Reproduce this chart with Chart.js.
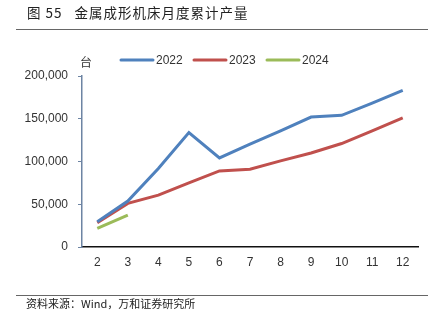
<!DOCTYPE html>
<html>
<head>
<meta charset="utf-8">
<script src="https://cdn.jsdelivr.net/npm/chart.js@4/dist/chart.umd.min.js"></script>
<style>
  html, body { margin: 0; padding: 0; background: #fff; }
  #wrap { position: relative; width: 434px; height: 330px; overflow: hidden; }
  #chart { position: absolute; left: 0; top: 0; }
  .cap { position: absolute; font-family: "Noto Sans CJK SC", sans-serif; color: #222; white-space: nowrap; }
  #title { left: 27px; top: 2px; font-size: 13.5px; letter-spacing: 1px; }
  #src { left: 26px; top: 295px; font-size: 11px; }
  .rule { position: absolute; left: 16px; width: 412px; height: 1px; background: #666; }
</style>
</head>
<body>
<div id="wrap">
  <canvas id="chart" width="434" height="330"></canvas>
  <div class="cap" id="title">图 55&nbsp;&nbsp;&nbsp;金属成形机床月度累计产量</div>
  <div class="rule" style="top:29px"></div>
  <div class="rule" style="top:295px"></div>
  <div class="cap" id="src">资料来源：Wind，万和证券研究所</div>
</div>
<script>
// months (cumulative output, units: 台)
var months = ['2', '3', '4', '5', '6', '7', '8', '9', '10', '11', '12'];
var seriesNames = ['2022', '2023', '2024'];
var colors = ['#4F81BD', '#C0504D', '#9BBB59'];
var y2022 = [29500, 53700, 91800, 133800, 104200, 120200, 135700, 152000, 154000, 168400, 183200];
var y2023 = [28400, 51000, 60700, 75000, 89000, 91000, 100700, 110000, 121000, 135700, 150900];
var y2024 = [21800, 37300];
var yTicks = [0, 50000, 100000, 150000, 200000];

var tickFont = { family: 'Liberation Sans, Arial, sans-serif', size: 12 };

// legend + unit label drawn on top of the chart
var legendPlugin = {
  id: 'topLegend',
  afterDraw: function (chart) {
    var ctx = chart.ctx;
    var xs = [121, 194, 267];
    ctx.save();
    ctx.font = '12px Liberation Sans, Arial, sans-serif';
    ctx.textBaseline = 'middle';
    chart.data.datasets.forEach(function (ds, i) {
      ctx.strokeStyle = ds.borderColor;
      ctx.lineWidth = 3;
      ctx.lineCap = 'round';
      ctx.beginPath();
      ctx.moveTo(xs[i], 60);
      ctx.lineTo(xs[i] + 32, 60);
      ctx.stroke();
      ctx.fillStyle = '#333';
      ctx.fillText(ds.label, xs[i] + 35, 60.5);
    });
    ctx.font = '12px "Noto Sans CJK SC", sans-serif';
    ctx.textAlign = 'center';
    ctx.fillStyle = '#333';
    ctx.fillText('台', 86, 62);
    ctx.restore();
  }
};

function makeSet(i, data) {
  return {
    label: seriesNames[i],
    data: data,
    borderColor: colors[i],
    backgroundColor: colors[i],
    borderWidth: 3,
    pointRadius: 0,
    tension: 0,
    fill: false
  };
}

new Chart(document.getElementById('chart'), {
  type: 'line',
  data: {
    labels: months,
    datasets: [makeSet(0, y2022), makeSet(1, y2023), makeSet(2, y2024)]
  },
  options: {
    responsive: false,
    animation: false,
    layout: { padding: { left: 0, right: 16, top: 76, bottom: 58 } },
    plugins: { legend: { display: false }, tooltip: { enabled: false } },
    scales: {
      x: {
        offset: true,
        grid: { display: false, drawTicks: false },
        border: { color: '#111', width: 1.5 },
        ticks: { color: '#333', font: tickFont, padding: 8, maxRotation: 0 },
        afterFit: function (s) { s.height = 25; }
      },
      y: {
        min: 0,
        max: 200000,
        afterBuildTicks: function (s) { s.ticks = yTicks.map(function (v) { return { value: v }; }); },
        grid: { display: true, drawOnChartArea: false, drawTicks: true, tickLength: 4, color: '#6d84a3' },
        border: { color: '#6d84a3', width: 1.5 },
        ticks: {
          color: '#333',
          font: tickFont,
          padding: 10,
          callback: function (v) { return v.toLocaleString('en-US'); }
        },
        afterFit: function (s) { s.width = 82; }
      }
    }
  },
  plugins: [legendPlugin]
});
</script>
</body>
</html>
